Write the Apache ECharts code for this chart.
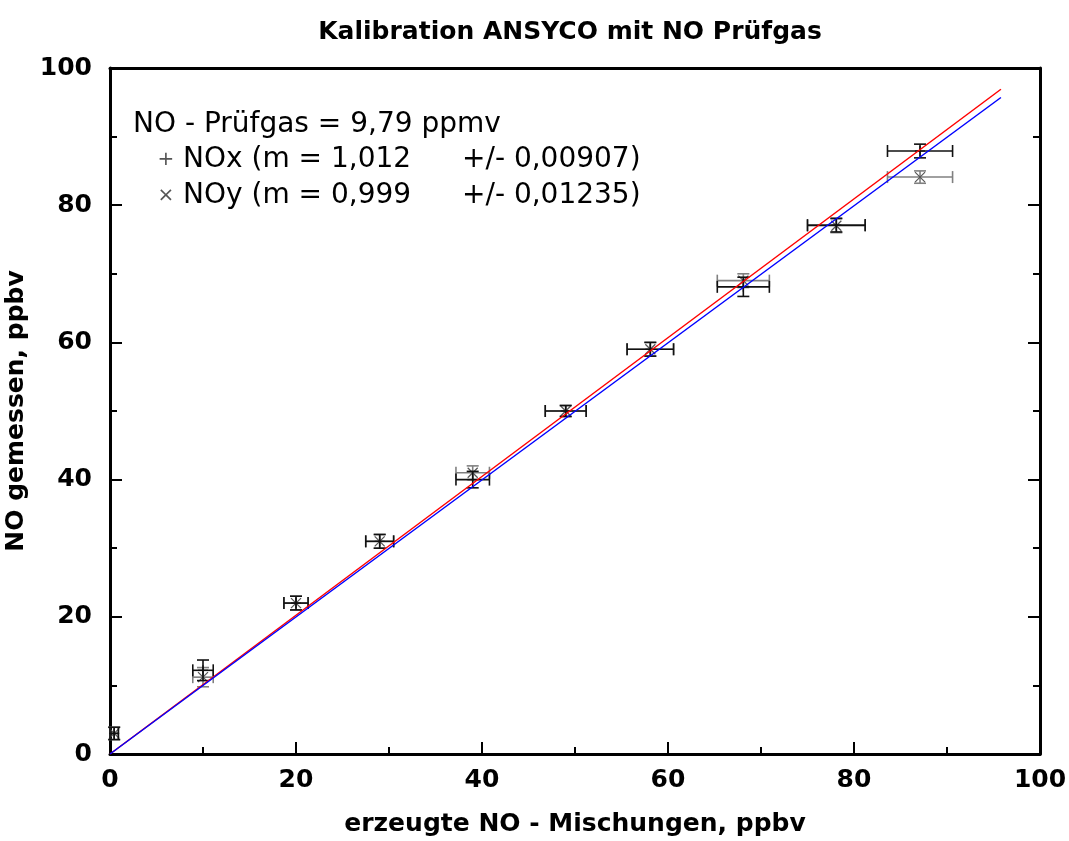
<!DOCTYPE html>
<html>
<head>
<meta charset="utf-8">
<script src="https://cdn.jsdelivr.net/npm/echarts@6/dist/echarts.min.js"></script>
<style>
html,body{margin:0;padding:0;background:#fff;}
#chart{width:1069px;height:841px;}
</style>
</head>
<body>
<div id="chart"></div>
<script>
// ---- data ----
var titleText = 'Kalibration ANSYCO mit NO Prüfgas';
var xAxisName = 'erzeugte NO - Mischungen, ppbv';
var yAxisName = 'NO gemessen, ppbv';
var legendHeader = 'NO - Prüfgas = 9,79 ppmv';
var legendNOxA = 'NOx (m = 1,012';
var legendNOxB = '+/- 0,00907)';
var legendNOyA = 'NOy (m = 0,999';
var legendNOyB = '+/- 0,01235)';

var xGen   = [0.45, 10, 20, 29, 39, 49, 58.1, 68.1, 78.1, 87.1];
var xErr   = [0.45, 1.1, 1.3, 1.5, 1.8, 2.2, 2.5, 2.8, 3.1, 3.5];
var noxVals = [3.0, 12.2, 22.0, 31.0, 40.0, 50.0, 59.0, 68.1, 77.1, 87.9];
var noxErr  = [0.9, 1.5, 1.0, 1.0, 1.2, 0.8, 1.0, 1.4, 1.0, 1.0];
var noyVals = [3.0, 11.2, 22.0, 31.0, 41.0, 50.0, 59.0, 69.0, 77.0, 84.1];
var noyErr  = [0.9, 1.4, 1.0, 1.0, 1.0, 0.8, 1.0, 1.0, 1.0, 0.9];

var fitX   = [0, 95.8];
var noxFit = [0, 96.9];
var noyFit = [0, 95.7];

// ---- build ----
var chart = echarts.init(document.getElementById('chart'));
var BOLD = '"DejaVu Sans", "Liberation Sans", Arial, sans-serif';
var REG = '"DejaVu Sans", "Liberation Sans", Arial, sans-serif';

function errData(vals, errs) {
  return xGen.map(function (x, i) { return [x, vals[i], xErr[i], errs[i]]; });
}
function makeRender(kind, color, markColor) {
  return function (params, api) {
    var x = api.value(0), y = api.value(1), ex = api.value(2), ey = api.value(3);
    var c = api.coord([x, y]);
    var l = api.coord([x - ex, y]), r = api.coord([x + ex, y]);
    var t = api.coord([x, y + ey]), b = api.coord([x, y - ey]);
    var st = {stroke: color, lineWidth: 1.6};
    var cw = 6, ch = 6;
    var ms = 5;
    var children = [
      {type: 'line', shape: {x1: l[0], y1: l[1], x2: r[0], y2: r[1]}, style: st},
      {type: 'line', shape: {x1: l[0], y1: l[1] - ch, x2: l[0], y2: l[1] + ch}, style: st},
      {type: 'line', shape: {x1: r[0], y1: r[1] - ch, x2: r[0], y2: r[1] + ch}, style: st},
      {type: 'line', shape: {x1: t[0], y1: t[1], x2: b[0], y2: b[1]}, style: st},
      {type: 'line', shape: {x1: t[0] - cw, y1: t[1], x2: t[0] + cw, y2: t[1]}, style: st},
      {type: 'line', shape: {x1: b[0] - cw, y1: b[1], x2: b[0] + cw, y2: b[1]}, style: st}
    ];
    var ms2 = {stroke: markColor, lineWidth: 1.2};
    if (kind === 'plus') {
      children.push({type: 'line', shape: {x1: c[0] - ms, y1: c[1], x2: c[0] + ms, y2: c[1]}, style: ms2});
      children.push({type: 'line', shape: {x1: c[0], y1: c[1] - ms, x2: c[0], y2: c[1] + ms}, style: ms2});
    } else {
      children.push({type: 'line', shape: {x1: c[0] - ms, y1: c[1] - ms, x2: c[0] + ms, y2: c[1] + ms}, style: ms2});
      children.push({type: 'line', shape: {x1: c[0] - ms, y1: c[1] + ms, x2: c[0] + ms, y2: c[1] - ms}, style: ms2});
    }
    return {type: 'group', children: children};
  };
}

var axisLine = {show: true, onZero: false, lineStyle: {color: '#000', width: 3}};
var tickCommon = {show: true, inside: true, length: 12, lineStyle: {color: '#000', width: 2}};
var minorCommon = {show: true, splitNumber: 2, length: 7, lineStyle: {color: '#000', width: 2}};
var labelStyle = {color: '#000', fontFamily: BOLD, fontWeight: 'bold', fontSize: 25};
var nameStyle = {fontFamily: BOLD, fontWeight: 'bold', fontSize: 25, color: '#000'};

var option = {
  backgroundColor: '#fff',
  animation: false,
  title: {
    text: titleText, left: 565, top: 15, textAlign: 'center',
    textStyle: {fontFamily: BOLD, fontWeight: 'bold', fontSize: 25, color: '#000'}
  },
  grid: {left: 110, right: 29, top: 68, bottom: 87, containLabel: false, outerBoundsMode: 'none'},
  xAxis: [{
    type: 'value', min: 0, max: 100, interval: 20, position: 'bottom',
    axisLine: axisLine, axisTick: tickCommon, minorTick: minorCommon,
    splitLine: {show: false},
    axisLabel: Object.assign({margin: 14}, labelStyle),
    name: xAxisName, nameLocation: 'middle', nameGap: 58,
    nameTextStyle: nameStyle
  }, {
    type: 'value', min: 0, max: 100, interval: 20, position: 'top',
    axisLine: axisLine, axisTick: {show: false}, minorTick: {show: false},
    splitLine: {show: false}, axisLabel: {show: false}
  }],
  yAxis: [{
    type: 'value', min: 0, max: 100, interval: 20, position: 'left',
    axisLine: axisLine, axisTick: tickCommon, minorTick: minorCommon,
    splitLine: {show: false},
    axisLabel: Object.assign({margin: 18}, labelStyle),
    name: yAxisName, nameLocation: 'middle', nameGap: 77,
    nameTextStyle: nameStyle
  }, {
    type: 'value', min: 0, max: 100, interval: 20, position: 'right',
    axisLine: axisLine, axisTick: tickCommon, minorTick: minorCommon,
    splitLine: {show: false}, axisLabel: {show: false}
  }],
  series: [
    {
      type: 'line', name: 'NOx fit', showSymbol: false, symbol: 'none',
      data: fitX.map(function (x, i) { return [x, noxFit[i]]; }),
      lineStyle: {color: '#ff0000', width: 1.5}, z: 3
    },
    {
      type: 'line', name: 'NOy fit', showSymbol: false, symbol: 'none',
      data: fitX.map(function (x, i) { return [x, noyFit[i]]; }),
      lineStyle: {color: '#0000ff', width: 1.5}, z: 3
    },
    {
      type: 'custom', name: 'NOy', data: errData(noyVals, noyErr),
      renderItem: makeRender('cross', '#808080', '#555'), z: 2
    },
    {
      type: 'custom', name: 'NOx', data: errData(noxVals, noxErr),
      renderItem: makeRender('plus', '#111', '#111'), z: 2
    }
  ],
  graphic: [
    {type: 'text', x: 133, y: 125, style: {text: legendHeader, fontFamily: REG, fontSize: 28, fill: '#000', verticalAlign: 'middle'}},
    {type: 'text', x: 166, y: 160, style: {text: '+', fontFamily: REG, fontSize: 20, fill: '#555', align: 'center', verticalAlign: 'middle'}},
    {type: 'text', x: 183, y: 160, style: {text: legendNOxA, fontFamily: REG, fontSize: 28, fill: '#000', verticalAlign: 'middle'}},
    {type: 'text', x: 462, y: 160, style: {text: legendNOxB, fontFamily: REG, fontSize: 28, fill: '#000', verticalAlign: 'middle'}},
    {type: 'text', x: 166, y: 196, style: {text: '×', fontFamily: REG, fontSize: 20, fill: '#555', align: 'center', verticalAlign: 'middle'}},
    {type: 'text', x: 183, y: 196, style: {text: legendNOyA, fontFamily: REG, fontSize: 28, fill: '#000', verticalAlign: 'middle'}},
    {type: 'text', x: 462, y: 196, style: {text: legendNOyB, fontFamily: REG, fontSize: 28, fill: '#000', verticalAlign: 'middle'}}
  ]
};
chart.setOption(option);
</script>
</body>
</html>
